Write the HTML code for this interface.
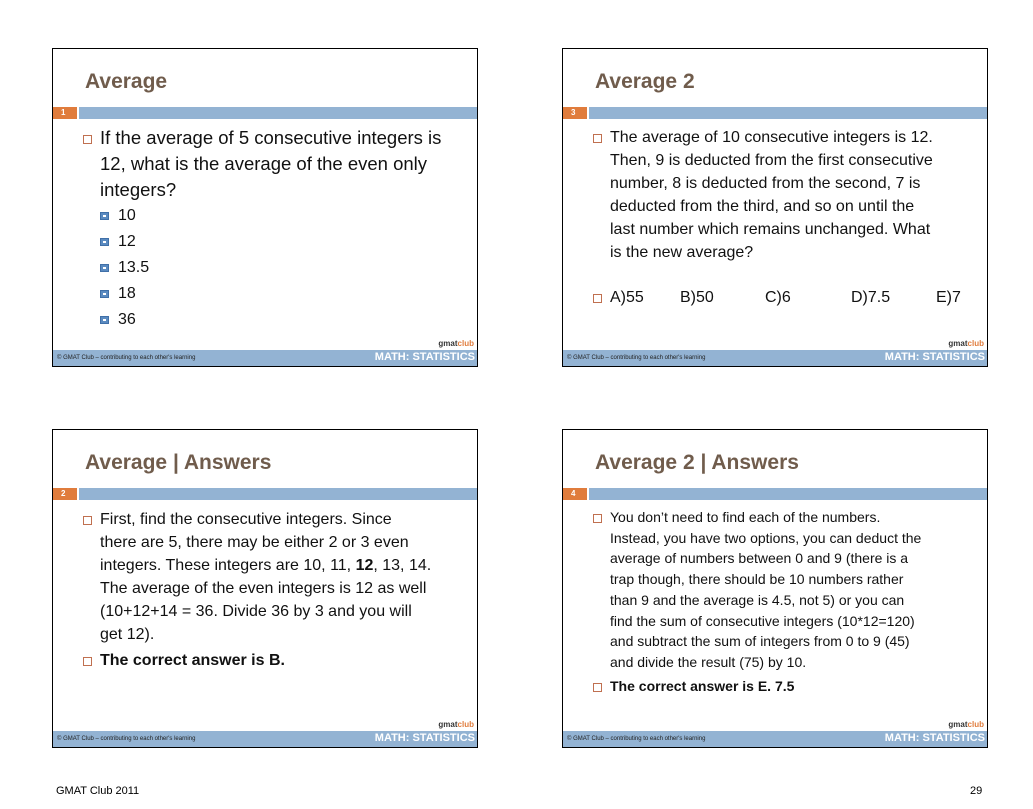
<!DOCTYPE html>
<html><head><meta charset="utf-8"><style>
body{margin:0;width:1033px;height:809px;background:#fff;position:relative;font-family:"Liberation Sans",sans-serif;overflow:hidden}
.s{position:absolute;width:424px;height:317px;border:1px solid #000;background:#fff}
.t{position:absolute;left:32px;top:21px;font-size:21px;font-weight:bold;color:#705c4c}
.n{position:absolute;left:0;top:58px;width:24px;height:12px;background:#e07c3c;color:#fff;font-size:8px;font-weight:bold;line-height:12px;padding-left:8px;box-sizing:border-box}
.b{position:absolute;left:26px;top:58px;right:0;height:12px;background:#93b3d3}
.f{position:absolute;left:0;bottom:0;right:0;height:16px;background:#93b3d3}
.f .l{position:absolute;left:4px;top:5px;font-size:6px;color:#222}
.f .r{position:absolute;right:2px;top:1px;font-size:11px;font-weight:bold;color:#fff}
.g{position:absolute;right:3px;bottom:18px;font-size:8px;font-weight:bold;color:#333}
.g span{color:#e07c3c}
.c{position:absolute;left:30px;right:0;color:#111;white-space:nowrap}
.c p{margin:0;position:relative;padding-left:17px}
.bx{position:absolute;left:0;width:7px;height:7px;border:1px solid #c07050}
.sub{position:relative;padding-left:18px;margin-left:17px}
.sub:before{content:"";position:absolute;left:0;top:9px;width:9px;height:8px;background:#5a8ac0;border:1px solid #4070a8;box-sizing:border-box}
.sub:after{content:"";position:absolute;left:3px;top:12px;width:3px;height:2px;background:#fff}
</style></head><body>

<div class="s" style="left:52px;top:48px">
<div class="t">Average</div><div class="n">1</div><div class="b"></div>
<div class="c" style="top:76px;font-size:18.5px;line-height:26px">
<p><span class="bx" style="top:10px"></span>If the average of 5 consecutive integers is<br>12, what is the average of the even only<br>integers?</p>
<div style="font-size:16px;line-height:26px">
<div class="sub">10</div><div class="sub">12</div><div class="sub">13.5</div><div class="sub">18</div><div class="sub">36</div></div>
</div>
<div class="g">gmat<span>club</span></div>
<div class="f"><span class="l">© GMAT Club – contributing to each other's learning</span><span class="r">MATH: STATISTICS</span></div>
</div>

<div class="s" style="left:562px;top:48px">
<div class="t">Average 2</div><div class="n">3</div><div class="b"></div>
<div class="c" style="top:77px;font-size:16px;line-height:23px">
<p><span class="bx" style="top:8px"></span>The average of 10 consecutive integers is 12.<br>Then, 9 is deducted from the first consecutive<br>number, 8 is deducted from the second, 7 is<br>deducted from the third, and so on until the<br>last number which remains unchanged. What<br>is the new average?</p>
<p style="margin-top:22px"><span class="bx" style="top:8px"></span>A)55<span style="position:absolute;left:87px">B)50</span><span style="position:absolute;left:172px">C)6</span><span style="position:absolute;left:258px">D)7.5</span><span style="position:absolute;left:343px">E)7</span></p>
</div>
<div class="g">gmat<span>club</span></div>
<div class="f"><span class="l">© GMAT Club – contributing to each other's learning</span><span class="r">MATH: STATISTICS</span></div>
</div>

<div class="s" style="left:52px;top:429px">
<div class="t">Average | Answers</div><div class="n">2</div><div class="b"></div>
<div class="c" style="top:78px;font-size:16px;line-height:23px">
<p><span class="bx" style="top:8px"></span>First, find the consecutive integers. Since<br>there are 5, there may be either 2 or 3 even<br>integers. These integers are 10, 11, <b>12</b>, 13, 14.<br>The average of the even integers is 12 as well<br>(10+12+14 = 36. Divide 36 by 3 and you will<br>get 12).</p>
<p style="margin-top:3px;font-weight:bold"><span class="bx" style="top:8px"></span>The correct answer is B.</p>
</div>
<div class="g">gmat<span>club</span></div>
<div class="f"><span class="l">© GMAT Club – contributing to each other's learning</span><span class="r">MATH: STATISTICS</span></div>
</div>

<div class="s" style="left:562px;top:429px">
<div class="t">Average 2 | Answers</div><div class="n">4</div><div class="b"></div>
<div class="c" style="top:77px;font-size:14px;line-height:20.7px">
<p><span class="bx" style="top:7px"></span>You don’t need to find each of the numbers.<br>Instead, you have two options, you can deduct the<br>average of numbers between 0 and 9 (there is a<br>trap though, there should be 10 numbers rather<br>than 9 and the average is 4.5, not 5) or you can<br>find the sum of consecutive integers (10*12=120)<br>and subtract the sum of integers from 0 to 9 (45)<br>and divide the result (75) by 10.</p>
<p style="margin-top:3px;font-weight:bold"><span class="bx" style="top:7px"></span>The correct answer is E. 7.5</p>
</div>
<div class="g">gmat<span>club</span></div>
<div class="f"><span class="l">© GMAT Club – contributing to each other's learning</span><span class="r">MATH: STATISTICS</span></div>
</div>

<div style="position:absolute;left:56px;top:785px;font-size:11px">GMAT Club 2011</div>
<div style="position:absolute;left:970px;top:785px;font-size:11px">29</div>
</body></html>
